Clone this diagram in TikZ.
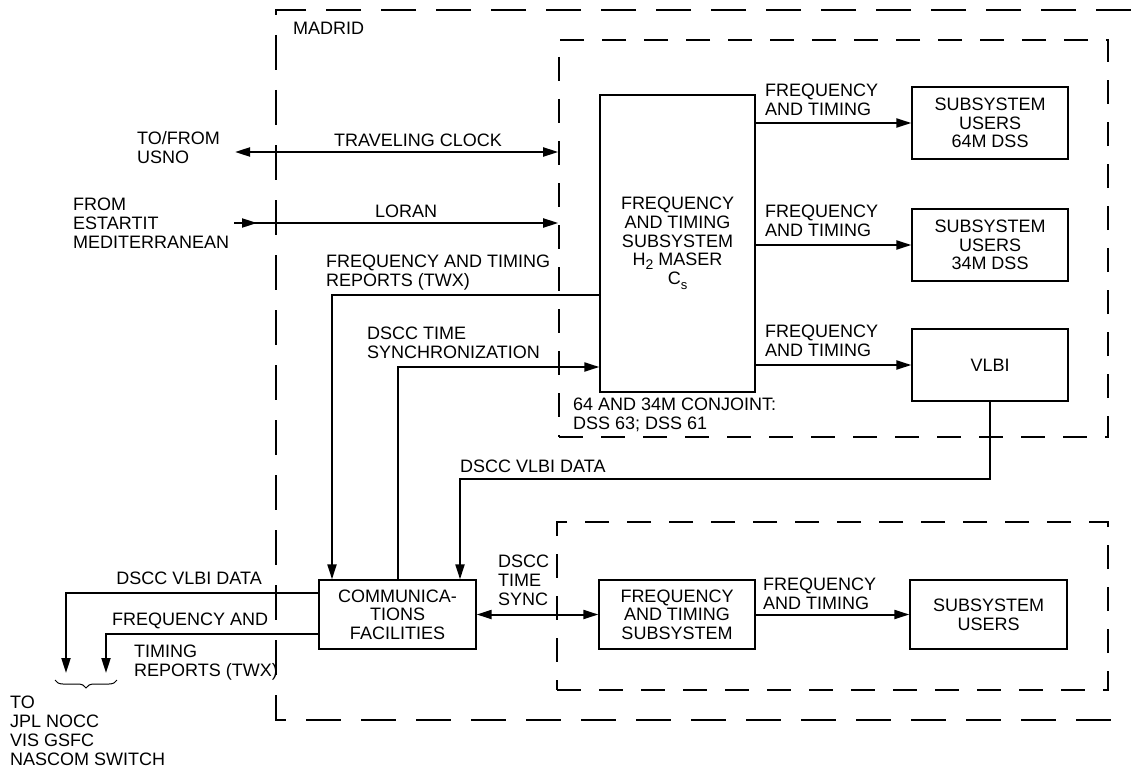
\documentclass[tikz,border=0pt]{standalone}
\usepackage{fontspec}
\setmainfont{Liberation Sans}
\usetikzlibrary{arrows.meta,decorations.pathreplacing,decorations.markings}
\begin{document}
\begin{tikzpicture}[x=1pt,y=-1pt,
  every node/.style={font=\fontsize{18}{18.7}\selectfont, inner sep=0pt},
  lbl/.style={align=left},
  blk/.style={draw, line width=1.3pt, align=center},
  grp/.style={draw, line width=1.6pt, dash pattern=on 24pt off 18pt},
  outerdash/.style={line width=1.6pt, dash pattern=on 35pt off 20pt},
  conn/.style={line width=2pt},
  arr/.style={-{Triangle[length=15pt,width=9pt]}},
  dbl/.style={{Triangle[length=15pt,width=9pt]}-{Triangle[length=15pt,width=9pt]}},
  midarr/.style={postaction={decorate}, decoration={markings, mark=at position 23pt with {\arrow{Triangle[length=15pt,width=9pt]}}}}
]
\useasboundingbox (0,0) rectangle (1131,773);

% outer MADRID boundary (right side off the picture)
\draw[outerdash] (1131,10) -- (276,10) -- (276,720) -- (1131,720);
\node[anchor=base west] (madrid) at (293,35) {MADRID};

% group boxes
\node[grp, minimum width=549pt, minimum height=397pt] (upper) at (833.5,238.5) {};
\node[grp, minimum width=551pt, minimum height=168pt] (lower) at (832.5,606) {};

% blocks
\node[blk, minimum width=155pt, minimum height=297pt] (maser) at (677.5,243.5)
  {FREQUENCY\\AND TIMING\\SUBSYSTEM\\H\raisebox{-4pt}{\fontsize{14}{14}\selectfont 2}\ MASER\\C\raisebox{-5pt}{\fontsize{13}{13}\selectfont s}};
\node[blk, minimum width=156pt, minimum height=72pt] (u64) at (990,123) {SUBSYSTEM\\USERS\\64M DSS};
\node[blk, minimum width=156pt, minimum height=72pt] (u34) at (990,245) {SUBSYSTEM\\USERS\\34M DSS};
\node[blk, minimum width=156pt, minimum height=72pt] (vlbi) at (990,365) {VLBI};
\node[blk, minimum width=157pt, minimum height=69pt] (comm) at (397.5,614.5) {COMMUNICA-\\TIONS\\FACILITIES};
\node[blk, minimum width=156pt, minimum height=69pt] (ft2) at (677,614.5) {FREQUENCY\\AND TIMING\\SUBSYSTEM};
\node[blk, minimum width=157pt, minimum height=69pt] (u2) at (988.5,614.5) {SUBSYSTEM\\USERS};

% labels (base = baseline of the last line)
\node[lbl, anchor=base west] (tofrom) at (137,163) {TO/FROM\\USNO};
\node[lbl, anchor=base west] (from) at (73,248) {FROM\\ESTARTIT\\MEDITERRANEAN};
\node[anchor=base west] (tcl) at (334,146) {TRAVELING CLOCK};
\node[anchor=base west] (lorl) at (375,217) {LORAN};
\node[lbl, anchor=base west] (twxl) at (326,286) {FREQUENCY AND TIMING\\REPORTS (TWX)};
\node[lbl, anchor=base west] (syncl) at (367,358) {DSCC TIME\\SYNCHRONIZATION};
\node[lbl, anchor=base west] (f1) at (765,115) {FREQUENCY\\AND TIMING};
\node[lbl, anchor=base west] (f2) at (765,236) {FREQUENCY\\AND TIMING};
\node[lbl, anchor=base west] (f3) at (765,356) {FREQUENCY\\AND TIMING};
\node[lbl, anchor=base west] (conj) at (573,429) {64 AND 34M CONJOINT:\\DSS 63; DSS 61};
\node[anchor=base west] (vdl) at (460,472) {DSCC VLBI DATA};
\node[anchor=base east] (vdl2) at (262,584) {DSCC VLBI DATA};
\node[anchor=base west] (fal) at (112,625) {FREQUENCY AND};
\node[lbl, anchor=base west] (trl) at (134,676) {TIMING\\REPORTS (TWX)};
\node[lbl, anchor=base west] (tsl) at (498,605) {DSCC\\TIME\\SYNC};
\node[lbl, anchor=base west] (f4) at (763,609) {FREQUENCY\\AND TIMING};
\node[lbl, anchor=base west] (tol) at (10,765) {TO\\JPL NOCC\\VIS GSFC\\NASCOM SWITCH};

% coordinates
\coordinate (usno) at (235,152);
\coordinate (loran) at (234,223);
\coordinate (twxc) at (332,295);
\coordinate (syncc) at (398,367);
\coordinate (vd) at (460,479);
\coordinate (o1) at (66,593);
\coordinate (o2) at (106,634);
\coordinate (e1) at (66,673);
\coordinate (e2) at (106,673);

% connectors
\draw[conn,dbl] (usno) -- (usno -| upper.west);
\draw[conn,arr,midarr] (loran) -- (loran -| upper.west);
\draw[conn,arr] (maser.west |- twxc) -- (twxc) -- (twxc |- comm.north);
\draw[conn,arr] (syncc |- comm.north) -- (syncc) -- (syncc -| maser.west);
\draw[conn,arr] (vlbi.south) -- (vlbi.south |- vd) -- (vd) -- (vd |- comm.north);
\draw[conn,arr] (maser.east |- u64.west) -- (u64.west);
\draw[conn,arr] (maser.east |- u34.west) -- (u34.west);
\draw[conn,arr] (maser.east |- vlbi.west) -- (vlbi.west);
\draw[conn,arr] (comm.west |- o1) -- (o1) -- (e1);
\draw[conn,arr] (comm.west |- o2) -- (o2) -- (e2);
\draw[conn,dbl] (comm.east) -- (ft2.west);
\draw[conn,arr] (ft2.east) -- (u2.west);
\draw[line width=1pt, decorate, decoration={brace, amplitude=8pt}] (117,680) -- (55,680);
\end{tikzpicture}
\end{document}
